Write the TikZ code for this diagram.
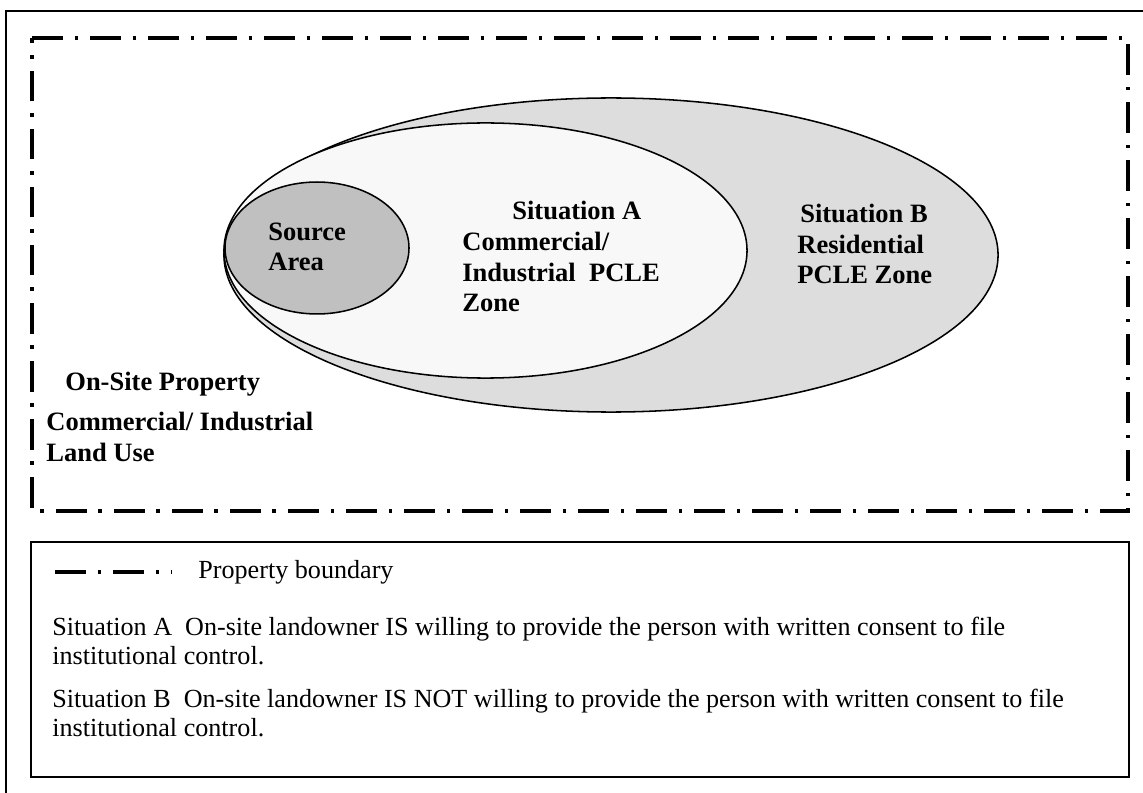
\documentclass[tikz,border=0pt]{standalone}
\usepackage{fontspec}
\setmainfont{Liberation Serif}
\usepackage{xcolor}
\usepackage{tikz}
\usetikzlibrary{shapes.geometric,positioning}

\definecolor{greyB}{RGB}{221,221,221}
\definecolor{greyA}{RGB}{248,248,248}
\definecolor{greySrc}{RGB}{192,192,192}

\tikzset{
  zone/.style={ellipse, draw, line width=0.8pt, inner sep=0pt},
  boundary/.style={line width=1.8pt, dash pattern=on 16pt off 6.2pt on 1.8pt off 6.2pt},
  lbl/.style={font=\fontsize{13.8}{16}\selectfont\bfseries, align=left, anchor=base west, inner sep=0pt},
  txt/.style={font=\fontsize{13.6}{14.6}\selectfont, align=left, anchor=base west, inner sep=0pt},
}

\begin{document}
\begin{tikzpicture}[x=0.5206pt, y=-0.5206pt]
  \useasboundingbox (0,0) rectangle (1143,793);
  % Frame
  \draw[line width=1.2pt] (6,11) rectangle (1170,820);
  % Property boundary
  \coordinate (nw) at (32,38);
  \coordinate (ne) at (1128,38);
  \coordinate (se) at (1128,511);
  \coordinate (sw) at (32,511);
  \draw[boundary] (nw) -- (ne) -- (se) -- (sw) -- cycle;
  % Define zones
  \node[zone, fill=greyB, minimum width=403pt, minimum height=163.5pt] (zoneB) at (611,255) {};
  \node[zone, fill=greyA, minimum width=272.3pt, minimum height=132.8pt] (zoneA) at (485.5,250.5) {};
  \node[zone, fill=greySrc, minimum width=95.8pt, minimum height=68.7pt] (src) at (317,248) {};
  % Labels (placed at the baseline of their last line)
  \node[lbl] (srclbl) at (268,271) {Source\\Area};
  \node[lbl] (Albl) at (462,312) {\hspace*{26pt}Situation A\\Commercial/\\Industrial\ \ PCLE\\Zone};
  \node[lbl] (Blbl) at (797,284) {\hspace*{1.5pt}Situation B\\Residential\\PCLE Zone};
  \node[lbl] (sitelbl) at (65,391) {On-Site Property};
  \node[lbl] (uselbl) at (46,461) {Commercial/ Industrial\\Land Use};
  % Legend
  \draw[line width=1.2pt] (31,542) rectangle (1129,777);
  \coordinate (legL) at (55,572);
  \coordinate (legR) at (172,572);
  \draw[boundary] (legL) -- (legR);
  \node[txt] (legtxt) at (198,578) {Property boundary};
  \node[txt] (sitA) at (52,664) {Situation A\ \ On-site landowner IS willing to provide the person with written consent to file\\institutional control.};
  \node[txt] (sitB) at (52,736) {Situation B\ \ On-site landowner IS NOT willing to provide the person with written consent to file\\institutional control.};
\end{tikzpicture}
\end{document}
